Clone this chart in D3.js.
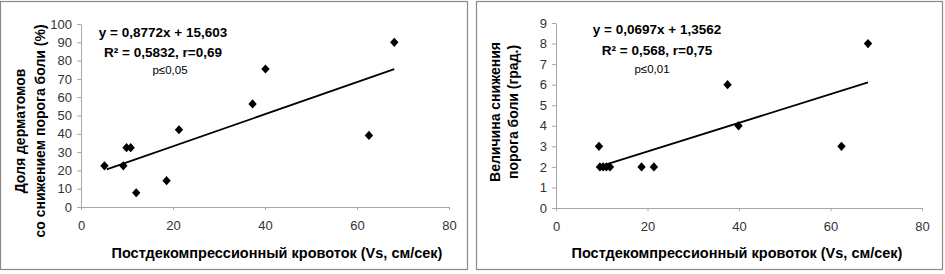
<!DOCTYPE html>
<html>
<head>
<meta charset="utf-8">
<script src="https://cdn.jsdelivr.net/npm/d3@7"></script>
<style>
  body { margin: 0; background: #fff; }
  svg { display: block; font-family: "Liberation Sans", Arial, sans-serif; }
</style>
</head>
<body>
<svg id="chart" width="945" height="274"></svg>
<script>
// left panel: share of dermatomes with lowered pain threshold
var leftX = [5.1, 9.2, 9.9, 10.8, 12.0, 18.6, 21.3, 37.3, 40.1, 62.6, 68.1];
var leftY = [22.5, 22.5, 32.4, 32.4, 7.8, 14.4, 42.2, 56.3, 75.4, 39.1, 90];
var leftTrend = [0.8772, 15.603];
var leftTrendRange = [5.6, 68.1];
var leftYTicks = [0, 10, 20, 30, 40, 50, 60, 70, 80, 90, 100];
var leftText = ["y = 0,8772x + 15,603", "R² = 0,5832, r=0,69", "p≤0,05"];
var leftYTitle = ["Доля дерматомов", "со снижением порога боли (%)"];

// right panel: magnitude of pain threshold decrease
var rightX = [9.4, 9.6, 10.3, 11.0, 11.8, 18.7, 21.4, 37.5, 39.9, 62.4, 68.2];
var rightY = [3, 2, 2, 2, 2, 2, 2, 6, 4, 3, 8];
var rightTrend = [0.0697, 1.3562];
var rightTrendRange = [11.0, 68.2];
var rightYTicks = [0, 1, 2, 3, 4, 5, 6, 7, 8, 9];
var rightText = ["y = 0,0697x + 1,3562", "R² = 0,568, r=0,75", "p≤0,01"];
var rightYTitle = ["Величина снижения", "порога боли (град.)"];

var xTicks = [0, 20, 40, 60, 80];
var xTitle = "Постдекомпрессионный кровоток (Vs, см/сек)";

var svg = d3.select('#chart');

function drawPanel(cfg) {
  var g = svg.append('g').attr('transform', `translate(${cfg.left}, 0)`);

  g.append('rect')
    .attr('x', 0.5).attr('y', 1.5)
    .attr('width', cfg.w - 1).attr('height', 268)
    .attr('fill', '#fff').attr('stroke', '#8a8a8a').attr('stroke-width', 1.2);

  var xscale = d3.scaleLinear().domain([0, 80]).range([cfg.px0, cfg.px1]);
  var yscale = d3.scaleLinear().domain([0, d3.max(cfg.yticks)]).range([cfg.py0, cfg.py1]);

  var xaxis = d3.axisBottom(xscale).tickValues(xTicks).tickSize(3).tickSizeOuter(3).tickPadding(11);
  var yaxis = d3.axisLeft(yscale).tickValues(cfg.yticks).tickSize(4).tickSizeOuter(0).tickPadding(5);

  var xg = g.append('g').attr('transform', `translate(0, ${cfg.py0})`).call(xaxis);
  var yg = g.append('g').attr('transform', `translate(${cfg.px0}, 0)`).call(yaxis);
  [xg, yg].forEach(function(a) {
    a.select('.domain').attr('stroke', '#a8a8a8');
    a.selectAll('.tick line').attr('stroke', '#a8a8a8');
    a.selectAll('.tick text').attr('fill', '#333').style('font-size', '13px')
      .style('font-family', '"Liberation Sans", Arial, sans-serif');
  });

  // trend line
  var line = d3.line().x(d => xscale(d)).y(d => yscale(cfg.trend[0] * d + cfg.trend[1]));
  g.append('path').datum(cfg.trendRange)
    .attr('d', line).attr('fill', 'none').attr('stroke', '#000').attr('stroke-width', 1.8);

  // diamonds
  var pts = cfg.xs.map((x, i) => ({x: x, y: cfg.ys[i]}));
  g.selectAll('path.pt').data(pts).enter().append('path')
    .attr('class', 'pt')
    .attr('transform', d => `translate(${xscale(d.x)}, ${yscale(d.y)})`)
    .attr('d', 'M0,-4.6L4.2,0L0,4.6L-4.2,0Z')
    .attr('fill', '#000');

  // equation text
  g.append('text').attr('x', cfg.tx).attr('y', cfg.ty[0]).attr('text-anchor', 'middle')
    .style('font-size', '13.5px').style('font-weight', 'bold').text(cfg.text[0]);
  g.append('text').attr('x', cfg.tx).attr('y', cfg.ty[1]).attr('text-anchor', 'middle')
    .style('font-size', '13.5px').style('font-weight', 'bold').text(cfg.text[1]);
  g.append('text').attr('x', cfg.tx + cfg.pdx).attr('y', cfg.ty[2]).attr('text-anchor', 'middle')
    .style('font-size', '11.5px').text(cfg.text[2]);

  // axis titles
  g.append('text').attr('x', cfg.xtx).attr('y', 258).attr('text-anchor', 'middle')
    .style('font-size', '14.5px').style('font-weight', 'bold').text(xTitle);
  cfg.ytitle.forEach(function(t, i) {
    g.append('text')
      .attr('transform', `translate(${cfg.ytx[i]}, ${cfg.yty}) rotate(-90)`)
      .attr('text-anchor', 'middle')
      .style('font-size', '14px').style('font-weight', 'bold').text(t);
  });
}

drawPanel({
  left: 0, w: 468,
  px0: 81, px1: 449, py0: 207, py1: 24,
  xs: leftX, ys: leftY, trend: leftTrend, trendRange: leftTrendRange,
  yticks: leftYTicks, text: leftText, ytitle: leftYTitle,
  tx: 163, ty: [37, 57, 74], pdx: 7,
  xtx: 277, ytx: [25, 45], yty: 131
});

drawPanel({
  left: 476, w: 467,
  px0: 80, px1: 446, py0: 208, py1: 23,
  xs: rightX, ys: rightY, trend: rightTrend, trendRange: rightTrendRange,
  yticks: rightYTicks, text: rightText, ytitle: rightYTitle,
  tx: 181, ty: [34, 55, 73], pdx: -5,
  xtx: 261, ytx: [24, 42], yty: 112
});
</script>
</body>
</html>
